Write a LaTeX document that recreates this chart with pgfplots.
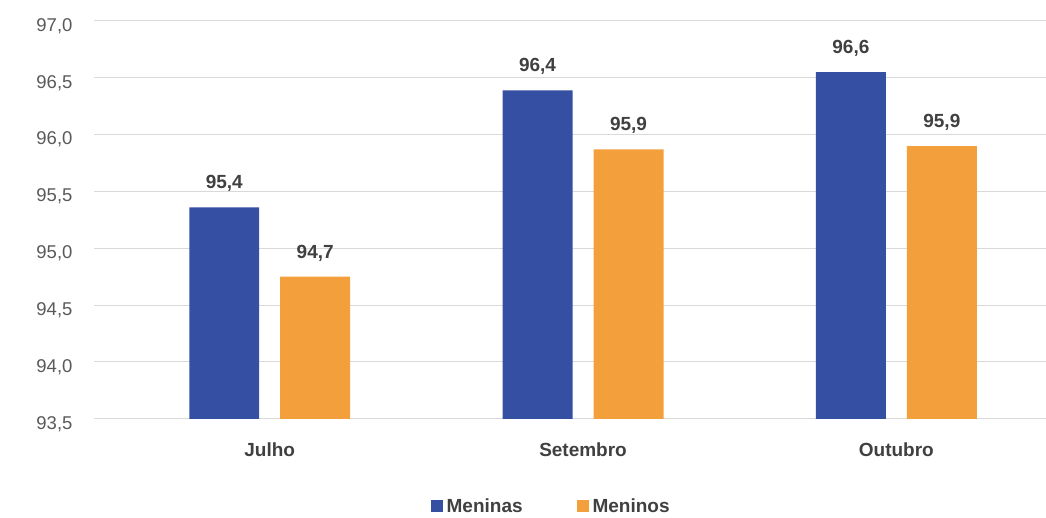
\documentclass[border=0pt]{standalone}
\usepackage{pgfplots}
\pgfplotsset{compat=1.18}
\usepackage{fontspec}
\setmainfont{Liberation Sans}
\definecolor{cblue}{RGB}{53,79,162}
\definecolor{corange}{RGB}{242,159,60}
\definecolor{cgrid}{RGB}{217,217,217}
\definecolor{ctick}{RGB}{89,89,89}
\definecolor{clab}{RGB}{64,64,64}
\begin{document}
\begin{tikzpicture}
\begin{axis}[
  at={(0,0)}, anchor=south west,
  scale only axis,
  width=952pt, height=398pt,
  xmin=-0.561, xmax=2.476,
  ymin=93.5, ymax=97.0,
  ytick={93.5,94,94.5,95,95.5,96,96.5,97},
  ymajorgrids, grid style={cgrid, line width=1pt},
  axis line style={draw=none},
  axis x line*=bottom,
  x axis line style={draw=cgrid, line width=1pt},
  major tick length=0pt,
  xtick={0,1,2},
  xticklabels={Julho,Setembro,Outubro},
  xticklabel style={font=\fontsize{19}{21}\selectfont\bfseries, text=clab, yshift=-20pt},
  yticklabel style={font=\fontsize{18.5}{20}\selectfont, text=ctick, xshift=-18pt, yshift=-5pt},
  /pgf/number format/assume math mode=true,
  /pgf/number format/.cd, use comma, fixed, fixed zerofill, precision=1, 1000 sep={},
  /pgfplots/.cd,
  ybar, bar width=70pt,
  nodes near coords,
  point meta=explicit symbolic,
  every node near coord/.append style={font=\fontsize{19}{21}\selectfont\bfseries, text=clab, anchor=south, yshift=12pt},
  legend style={draw=none, at={(0.4815,-0.22)}, anchor=center, legend columns=2,
    font=\fontsize{19}{21}\selectfont\bfseries, text=clab,
    /tikz/every even column/.append style={column sep=50pt}},
  legend image code/.code={\fill[#1] (0pt,-6pt) rectangle (12pt,6pt);},
  legend style={/tikz/every node/.append style={inner xsep=4pt}},
]
\addplot[fill=cblue, draw=none, bar shift=-45.5pt] table[x=x, y=y, meta=lab] {
x y lab
0 95.36 95,4
1 96.39 96,4
2 96.55 96,6
};
\addplot[fill=corange, draw=none, bar shift=45.5pt] table[x=x, y=y, meta=lab] {
x y lab
0 94.75 94,7
1 95.87 95,9
2 95.90 95,9
};
\legend{Meninas, Meninos}
\end{axis}
\useasboundingbox (-94pt,-96pt) rectangle (952pt,419pt);
\end{tikzpicture}
\end{document}
